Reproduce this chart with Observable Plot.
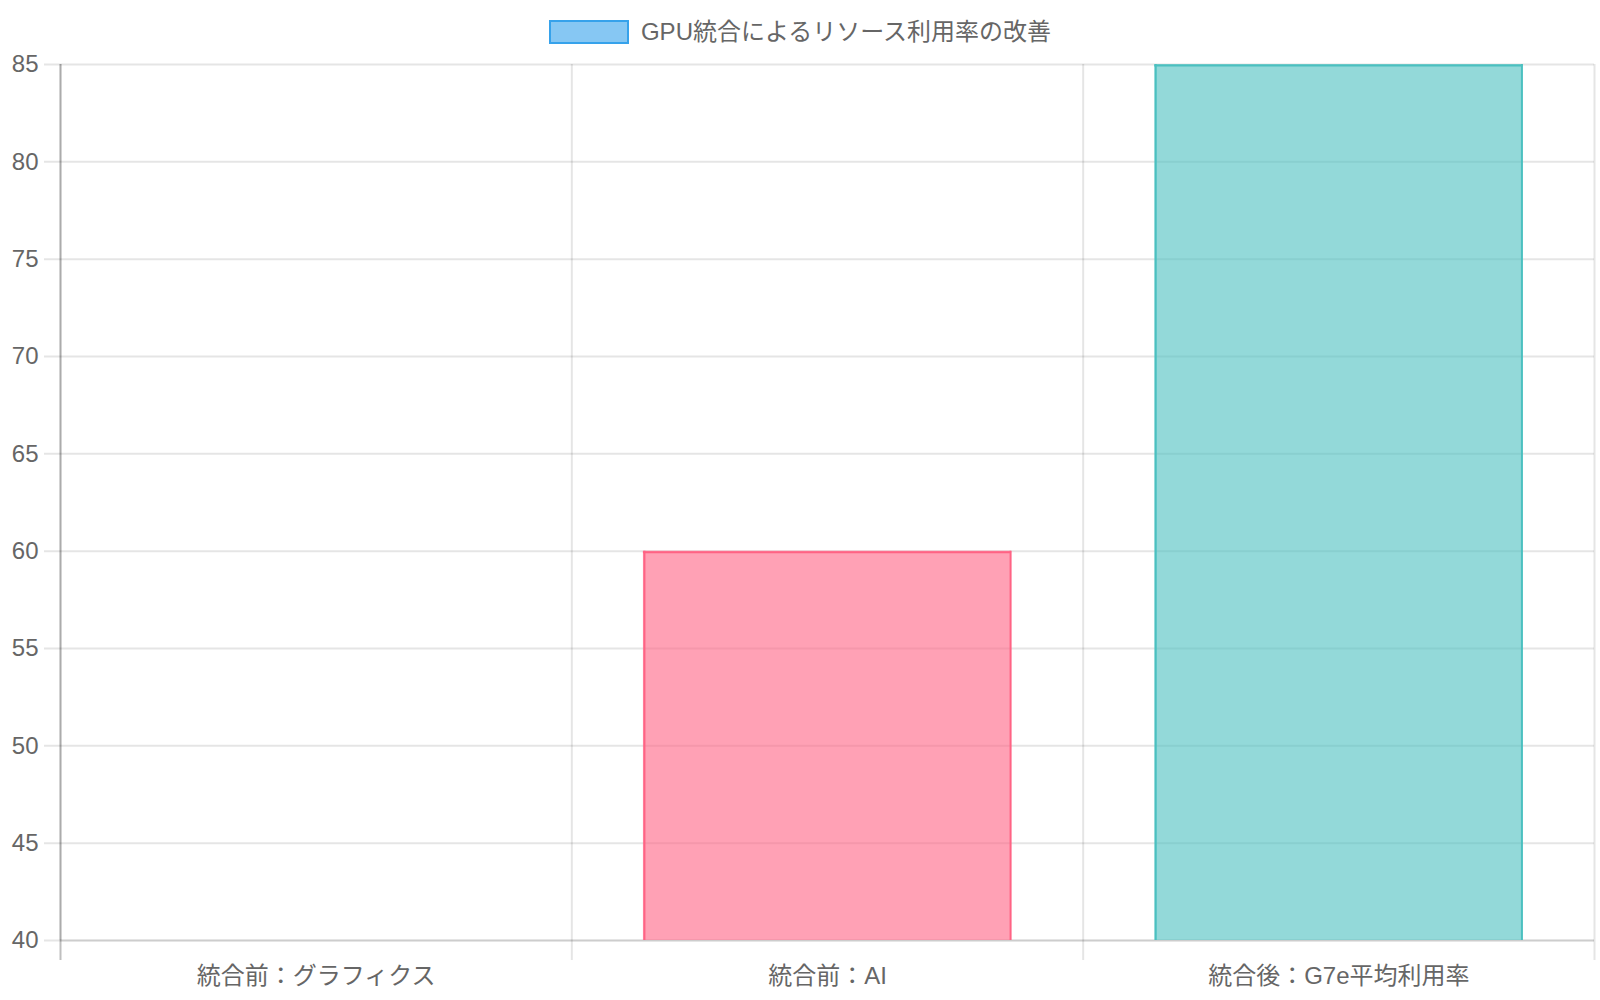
<!DOCTYPE html>
<html><head><meta charset="utf-8">
<script src="https://cdn.jsdelivr.net/npm/d3@7"></script>
<script src="https://cdn.jsdelivr.net/npm/@observablehq/plot@0.6"></script>
<style>
html,body{margin:0;padding:0;background:#fff;overflow:hidden;}
#legend{height:56px;box-sizing:border-box;padding-top:20px;display:flex;justify-content:center;align-items:flex-start;font-family:"Liberation Sans","Noto Sans CJK JP",sans-serif;font-size:24px;color:#666;}
.swatch{width:80px;height:24px;box-sizing:border-box;border:2px solid rgb(54,162,235);background:rgba(54,162,235,0.6);margin-right:12px;}
.label{line-height:24px;white-space:nowrap;}
</style></head><body>
<div id="legend"></div><div id="chart"></div>
<script>
const seriesLabel = "GPU統合によるリソース利用率の改善";
const categories = ["統合前：グラフィクス", "統合前：AI", "統合後：G7e平均利用率"];
const values = [40, 60, 85];
const fills = ["rgba(54,162,235,0.6)", "rgba(255,99,132,0.6)", "rgba(75,192,192,0.6)"];
const strokes = ["rgb(54,162,235)", "rgb(255,99,132)", "rgb(75,192,192)"];
const yTicks = [40, 45, 50, 55, 60, 65, 70, 75, 80, 85];

const yMin = yTicks[0], yMax = yTicks[yTicks.length - 1];
const barPad = (1 - 0.8 * 0.9) / 2;
const data = categories.map((c, i) => ({i, c, v: values[i], fill: fills[i], stroke: strokes[i]}));
const bordered = data.filter(d => d.v > yMin);
const centers = categories.map((c, i) => i + 0.5);
const edges = d3.range(categories.length + 1);

// legend
const lg = document.getElementById("legend");
lg.innerHTML = `<div class="swatch"></div><div class="label"></div>`;
lg.querySelector(".label").textContent = seriesLabel;

const chart = Plot.plot({
  width: 1600,
  height: 944,
  marginLeft: 60,
  marginRight: 6,
  marginTop: 8,
  marginBottom: 60,
  style: {fontFamily: '"Liberation Sans","Noto Sans CJK JP",sans-serif', fontSize: "24px", color: "#666", background: "#fff", overflow: "visible"},
  x: {type: "linear", domain: [0, categories.length]},
  y: {domain: [yMin, yMax]},
  marks: [
    Plot.ruleY(yTicks, {y: d => d, stroke: "#000", strokeOpacity: 0.1, strokeWidth: 2, insetLeft: -16}),
    Plot.ruleX(edges, {x: d => d, stroke: "#000", strokeOpacity: d => d === 0 ? 0.25 : 0.1, strokeWidth: 2, insetBottom: -20}),
    Plot.ruleX([0], {x: d => d, stroke: "#000", strokeOpacity: 0.1, strokeWidth: 2}),
    Plot.ruleY([yMin], {y: d => d, stroke: "#000", strokeOpacity: 0.1, strokeWidth: 2}),
    Plot.rectY(data, {x1: d => d.i + barPad, x2: d => d.i + 1 - barPad, y1: yMin, y2: d => d.v, fill: d => d.fill}),
    Plot.ruleX(bordered, {x: d => d.i + barPad, y1: yMin, y2: d => d.v, stroke: d => d.stroke, strokeWidth: 2, dx: 1}),
    Plot.ruleX(bordered, {x: d => d.i + 1 - barPad, y1: yMin, y2: d => d.v, stroke: d => d.stroke, strokeWidth: 2, dx: -1}),
    Plot.ruleY(bordered, {y: d => d.v, x1: d => d.i + barPad, x2: d => d.i + 1 - barPad, stroke: d => d.stroke, strokeWidth: 2, dy: 1}),
    Plot.axisY(yTicks, {tickSize: 0, tickPadding: 22, fontSize: 24, fill: "#666", label: null, tickFormat: d => String(d)}),
    Plot.axisX(centers, {tickSize: 0, tickPadding: 26, fontSize: 24, fill: "#666", label: null, tickFormat: d => categories[Math.floor(d)]})
  ]
});
document.getElementById("chart").appendChild(chart);
</script></body></html>
